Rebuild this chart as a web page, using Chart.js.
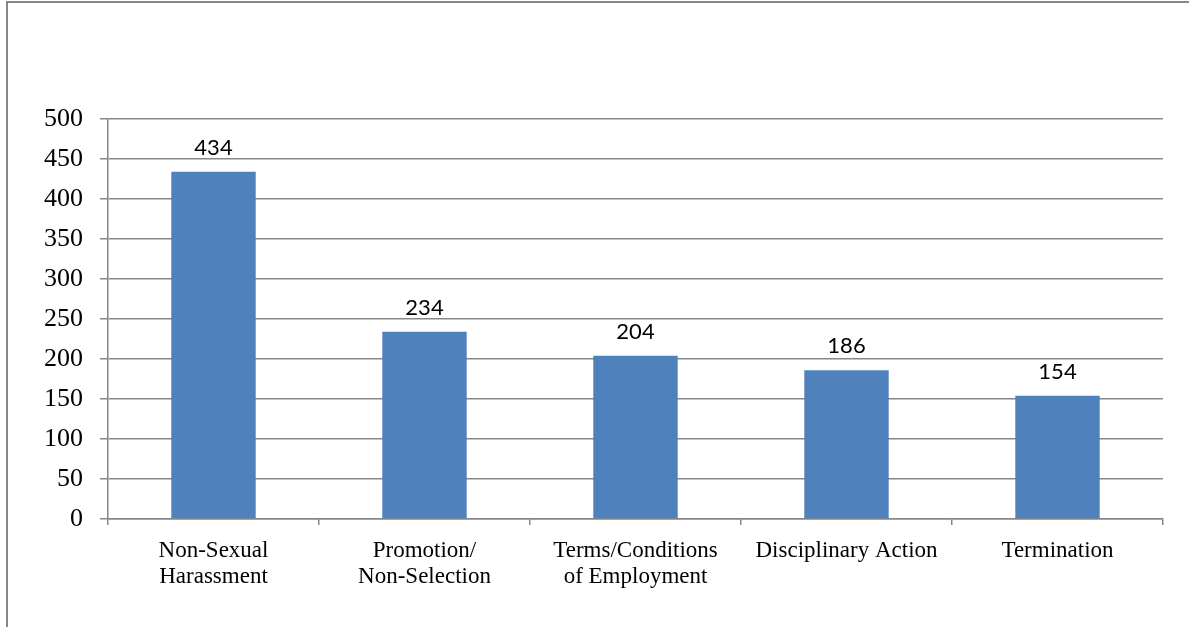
<!DOCTYPE html>
<html>
<head>
<meta charset="utf-8">
<script src="https://cdn.jsdelivr.net/npm/chart.js@4.4.1/dist/chart.umd.min.js"></script>
<style>
    html, body { margin: 0; padding: 0; background: #fff; overflow: hidden; }
    #wrap { position: relative; width: 1189px; height: 627px; }
    #frame { position: absolute; left: 6px; top: 1px; width: 1300px; height: 800px; border: 2px solid #878787; box-sizing: border-box; }
    #chart { position: absolute; left: 0; top: 0; }
</style>
</head>
<body>
<div id="wrap">
    <div id="frame"></div>
    <canvas id="chart" width="1189" height="627"></canvas>
</div>
<script>
const categories = [
    ['Non-Sexual', 'Harassment'],
    ['Promotion/', 'Non-Selection'],
    ['Terms/Conditions', 'of Employment'],
    'Disciplinary Action',
    'Termination'
];
const counts = [434, 234, 204, 186, 154];
const yTicks = [0, 50, 100, 150, 200, 250, 300, 350, 400, 450, 500];

const gridColor = '#878787';

// value labels above each bar
const barValues = {
    id: 'barValues',
    afterDatasetsDraw(chart) {
        const ctx = chart.ctx;
        const meta = chart.getDatasetMeta(0);
        ctx.save();
        ctx.font = '22px Lato';
        ctx.fillStyle = '#000';
        ctx.textAlign = 'center';
        ctx.textBaseline = 'bottom';
        meta.data.forEach((bar, i) => {
            ctx.fillText(String(counts[i]), bar.x, bar.y - 13);
        });
        ctx.restore();
    }
};

new Chart(document.getElementById('chart').getContext('2d'), {
    type: 'bar',
    data: {
        labels: categories,
        datasets: [{
            data: counts,
            backgroundColor: '#4f81bd',
            borderWidth: 0,
            categoryPercentage: 0.8,
            barPercentage: 0.5
        }]
    },
    options: {
        responsive: false,
        animation: false,
        layout: { padding: { top: 119, right: 26, left: 0, bottom: 0 } },
        plugins: {
            legend: { display: false },
            tooltip: { enabled: false }
        },
        scales: {
            x: {
                afterFit(scale) { scale.height = 108; },
                grid: {
                    drawOnChartArea: false,
                    drawTicks: true,
                    tickLength: 6,
                    color: gridColor,
                    lineWidth: 1.5
                },
                border: { color: gridColor, width: 1.5 },
                ticks: {
                    color: '#000',
                    padding: 12,
                    maxRotation: 0,
                    font: { family: 'Liberation Serif', size: 23, lineHeight: 1.17 }
                }
            },
            y: {
                min: 0,
                max: 500,
                afterFit(scale) { scale.width = 108; },
                afterBuildTicks(scale) { scale.ticks = yTicks.map(v => ({ value: v })); },
                grid: {
                    color: gridColor,
                    lineWidth: 1.5,
                    tickLength: 8
                },
                border: { color: gridColor, width: 1.5 },
                ticks: {
                    color: '#000',
                    padding: 17,
                    font: { family: 'Liberation Serif', size: 26 }
                }
            }
        }
    },
    plugins: [barValues]
});
</script>
</body>
</html>
